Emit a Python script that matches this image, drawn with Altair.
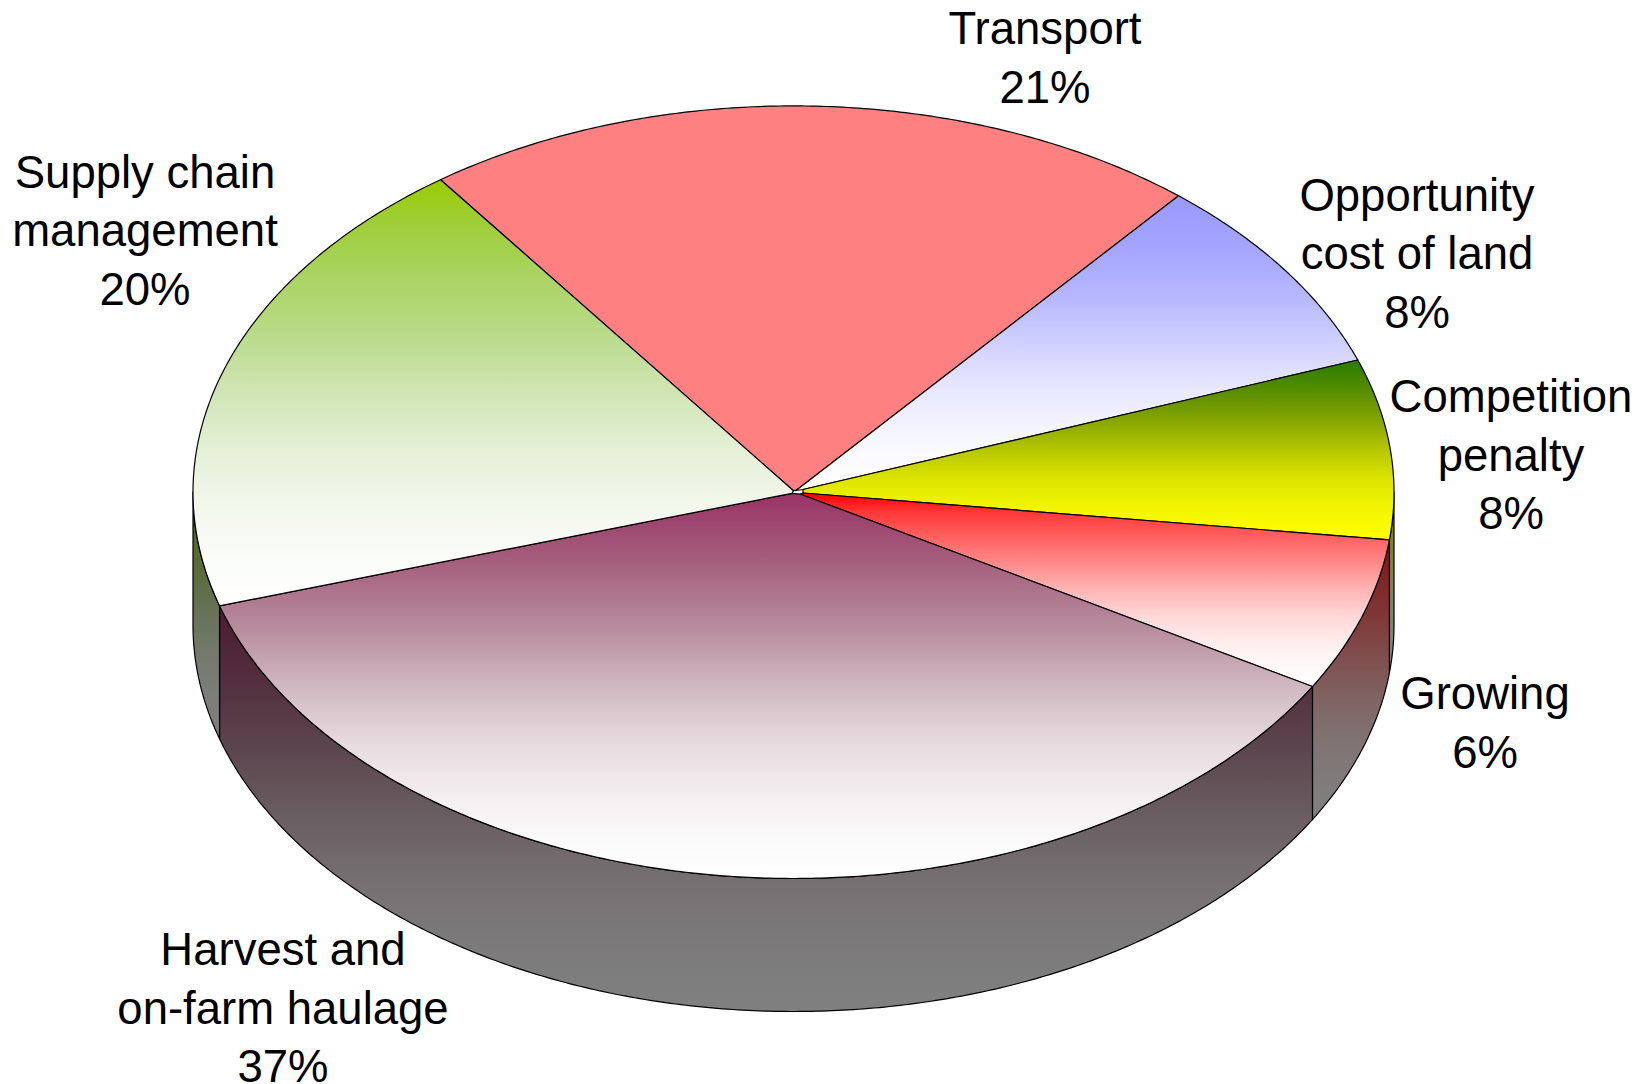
import math
import altair as alt

# Share of each slice in percent (clockwise from the Transport slice)
names = ["Transport", "Opportunity cost of land", "Competition penalty", "Growing",
         "Harvest and on-farm haulage", "Supply chain management"]
shares = [21.08, 8.36, 7.53, 6.42, 36.86, 19.75]
top_start = ["#FF8080", "#9999FF", "#267C00", "#FF0000", "#993366", "#99CC00"]
top_end = ["#FF8080", "#FFFFFF", "#FFFF00", "#FFFFFF", "#FFFFFF", "#FFFFFF"]
wall_start = ["#804040", "#4D4D80", "#808000", "#801010", "#4D1A33", "#4D6600"]
wall_end = "#808080"

label_lines = [["Transport", "21%"],
               ["Opportunity", "cost of land", "8%"],
               ["Competition", "penalty", "8%"],
               ["Growing", "6%"],
               ["Harvest and", "on-farm haulage", "37%"],
               ["Supply chain", "management", "20%"]]
label_x = [1045, 1417, 1511, 1485, 283, 145]
label_y = [30, 196.5, 398, 695, 951, 173.5]

# Layout of the drawing, in page pixels
CX, CY, A, B = 793.5, 492.2, 600.5, 386.3
# Where each slice boundary reaches the hub (start of Transport first)
HUB = [(793.5, 490.7), (796, 490.5), (803, 489.5), (803, 493), (800, 494), (792, 493.3)]
DEPTH = 133
START_DEG = -36.0
FONT = "Liberation Sans"
FONT_SIZE = 45.5
LINE_H = 58.5

# How far a gradient has gone (in linear light) at each fraction of its height
RAMP_T = [0, 0.1, 0.2, 0.35, 0.5, 0.65, 0.8, 0.9, 1]
RAMP_MIX = [0, 0.04, 0.10, 0.24, 0.46, 0.70, 0.87, 0.95, 1]


def to_lin(v):
    v /= 255
    return v / 12.92 if v <= 0.04045 else ((v + 0.055) / 1.055) ** 2.4


def to_srgb(v):
    v = v * 12.92 if v <= 0.0031308 else 1.055 * v ** (1 / 2.4) - 0.055
    return round(max(0, min(1, v)) * 255)


def mix(c0, c1, f):
    a = [to_lin(int(c0[i:i + 2], 16)) for i in (1, 3, 5)]
    b = [to_lin(int(c1[i:i + 2], 16)) for i in (1, 3, 5)]
    return "#%02X%02X%02X" % tuple(to_srgb(x + (y - x) * f) for x, y in zip(a, b))


def rim(deg, drop=0):
    t = math.radians(deg)
    return [CX + A * math.sin(t), CY - B * math.cos(t) + drop]


def arc(d0, d1, drop=0):
    n = max(2, int(abs(d1 - d0) * 2))
    return [rim(d0 + (d1 - d0) * i / n, drop) for i in range(n + 1)]


def feature(ring):
    ring = ring + [ring[0]]
    return {"type": "Feature", "properties": {},
            "geometry": {"type": "Polygon", "coordinates": [ring]}}


def grad(c0, c1):
    return alt.LinearGradient(gradient="linear", x1=0, x2=0, y1=0, y2=1,
                              stops=[alt.GradientStop(offset=t, color=mix(c0, c1, f))
                                     for t, f in zip(RAMP_T, RAMP_MIX)])


def shape(ring, fill):
    return (alt.Chart(alt.Data(values=[feature(ring)]))
            .mark_geoshape(fill=fill, stroke="#000000", strokeWidth=1.2, strokeJoin="round")
            .project(type="identity", scale=1, translate=[-8, -8]))


edges = [START_DEG]
for s in shares:
    edges.append(edges[-1] + s * 3.6)

walls, tops = [], []
n_slices = len(shares)
for i in range(n_slices):
    d0, d1 = edges[i], edges[i + 1]
    v0, v1 = max(d0, 90), min(d1, 270)
    if v1 > v0:
        walls.append(shape(arc(v0, v1) + arc(v1, v0, DEPTH), grad(wall_start[i], wall_end)))
    ring = [list(HUB[i])] + arc(d0, d1) + [list(HUB[(i + 1) % n_slices])]
    tops.append(shape(ring, grad(top_start[i], top_end[i])))

texts = []
for lines, x, y in zip(label_lines, label_x, label_y):
    texts.append(alt.Chart(alt.Data(values=[{}]))
                 .mark_text(text=lines, font=FONT, fontSize=FONT_SIZE, lineHeight=LINE_H,
                            color="#000000", align="center", baseline="middle")
                 .encode(x=alt.value(x - 8), y=alt.value(y - 8)))

chart = (alt.layer(*walls, *tops, *texts)
         .properties(width=1623, height=1076, padding=0, background="#FFFFFF",
                     autosize=alt.AutoSizeParams(type="none"))
         .configure_view(stroke=None))

chart.save("out.html", embed_options={"renderer": "svg", "actions": False})
